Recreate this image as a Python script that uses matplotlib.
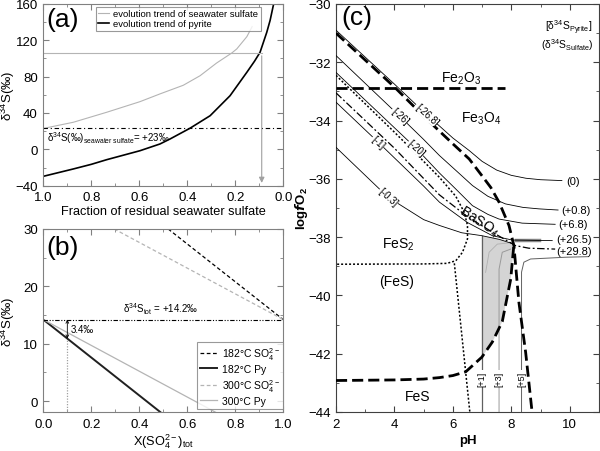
import matplotlib
matplotlib.use('Agg')
from matplotlib import pyplot as plt
from matplotlib.ticker import MultipleLocator

plt.rcParams['font.family'] = ['Liberation Sans', 'DejaVu Sans']
plt.rcParams['mathtext.fontset'] = 'custom'
plt.rcParams['mathtext.rm'] = 'Liberation Sans'
plt.rcParams['mathtext.it'] = 'Liberation Sans:italic'
plt.rcParams['mathtext.bf'] = 'Liberation Sans:bold'
plt.rcParams['font.size'] = 9.5

# ---- panel (a): Rayleigh trends
f_sulf = [1.0, 0.875, 0.736, 0.597, 0.514, 0.417, 0.347, 0.278, 0.215, 0.194, 0.152, 0.13]
d_sulf = [23, 29.8, 40.8, 52.5, 61, 70.5, 81, 95, 106, 110.5, 124, 135]
f_py = [1.0, 0.875, 0.8, 0.736, 0.597, 0.514, 0.472, 0.389, 0.305, 0.222, 0.152, 0.12, 0.097,
        0.069, 0.055, 0.042, 0.037]
d_py = [-29.7, -21.6, -16.5, -11.4, -1.5, 5.9, 11.4, 23.2, 37, 59, 84.8, 97, 106.8,
        128.8, 142, 158, 163]
sw_sulfate = 23
f_mark, d_mark = 0.09, 106

# ---- panel (b): mass balance lines
d_tot = 14.2
x_182_so4, y_182_so4 = [0.52, 1.0], [30, 14.2]
x_300_so4, y_300_so4 = [0.295, 1.0], [30, 14.2]
x_182_py, y_182_py = [0.0, 0.49], [14.2, -2]
x_300_py, y_300_py = [0.0, 0.72], [14.2, -2]
x_mark, py_mark = 0.1, 10.9

# ---- panel (c): pH - logfO2 diagram
mag_py_ph = [2.0, 4.0, 5.0, 6.0, 6.56, 7.0, 7.3, 7.58, 7.92, 8.09, 8.15, 8.26, 8.49, 8.71]
mag_py_lf = [-31.0, -32.85, -33.85, -34.8, -35.32, -35.9, -36.3, -36.8, -37.6, -38.3, -39.0, -40.24, -41.95, -44.0]
py_po_ph = [2.0, 4.0, 5.0, 5.54, 6.0, 6.44, 6.99, 7.35, 7.69, 7.98, 8.09]
py_po_lf = [-42.92, -42.9, -42.87, -42.82, -42.75, -42.62, -42.12, -41.6, -40.9, -39.44, -38.24]
hem_ph, hem_lf = [2.0, 7.8], [-32.9, -32.9]

c0_ph = [2.0, 4.0, 5.0, 6.0, 6.56, 7.0, 7.5, 8.0, 8.5, 9.0, 9.73]
c0_lf = [-30.9, -32.75, -33.7, -34.6, -35.03, -35.4, -35.7, -35.88, -35.98, -36.03, -36.06]
c08_ph = [2.0, 4.18, 5.0, 5.54, 6.2, 6.67, 7.2, 7.8, 8.4, 8.94, 9.6]
c08_lf = [-31.77, -33.85, -34.65, -35.2, -35.8, -36.23, -36.6, -36.86, -36.98, -37.03, -37.07]
c68_ph = [2.0, 4.74, 5.54, 6.1, 6.67, 7.2, 7.58, 8.37, 9.5]
c68_lf = [-32.35, -34.95, -35.8, -36.35, -36.92, -37.22, -37.38, -37.52, -37.56]
c265_ph = [2.0, 3.44, 5.0, 5.54, 6.5, 7.35, 8.03, 9.4]
c265_lf = [-33.37, -34.74, -36.25, -36.8, -37.5, -37.95, -38.1, -38.12]
c298_ph = [2.0, 4.0, 5.54, 6.5, 7.35, 8.14, 8.6, 9.5]
c298_lf = [-33.05, -34.95, -36.55, -37.3, -37.83, -38.29, -38.38, -38.41]
c03_ph = [2.0, 3.78, 5.0, 5.54, 6.3, 6.99, 7.6, 8.09]
c03_lf = [-34.92, -36.63, -37.4, -37.6, -37.85, -37.95, -38.08, -38.24]
bar_ph = [2.0, 4.0, 5.0, 5.54, 6.1, 6.39, 6.5, 6.5, 6.33, 6.1, 5.8, 5.0, 2.0]
bar_lf = [-32.45, -34.4, -35.4, -35.95, -36.6, -37.15, -37.6, -38.06, -38.52, -38.81, -38.9, -38.92, -38.93]
fes_ph, fes_lf = [6.05, 6.58], [-38.9, -44.0]
p1_ph, p1_lf = [7.0, 7.0], [-44.0, -37.95]
p3_ph = [7.58, 7.58, 7.69, 7.98]
p3_lf = [-44.0, -39.1, -38.52, -38.41]
p3b_ph = [7.12, 7.24, 7.52, 7.9]
p3b_lf = [-39.21, -38.52, -38.24, -38.2]
p5_ph = [8.35, 8.35, 8.43, 8.66, 9.85, 10.64]
p5_lf = [-44.0, -39.2, -38.86, -38.75, -38.69, -38.67]
band_ph, band_lf = [8.15, 8.94], [-38.1, -38.1]

right_labels = ['(0)', '(+0.8)', '(+6.8)', '(+26.5)', '(+29.8)']
right_ph = [9.89, 9.72, 9.59, 9.55, 9.55]
right_lf = [-36.06, -37.07, -37.56, -38.07, -38.47]
line_labels = ['[-26.8]', '[-26]', '[-20]', '[-1]', '[-0.3]']
line_ph = [5.1, 4.18, 4.74, 3.44, 3.78]
line_lf = [-33.78, -33.85, -34.95, -34.74, -36.63]
vert_labels = ['[+1]', '[+3]', '[+5]']
vert_ph = [7.0, 7.58, 8.35]

frame_a = '#808080'
frame_c = '#404040'
grey = '#b4b4b4'


def style_axis(ax, col):
    for s in ax.spines.values():
        s.set_color(col)
        s.set_linewidth(0.8)
    ax.tick_params(which='both', direction='in', top=True, right=True, color=col, pad=4)
    ax.tick_params(which='major', length=4)
    ax.tick_params(which='minor', length=2)


fig = plt.figure(figsize=(6, 4.52), dpi=100)

# (a)
ax1 = fig.add_axes([0.0722, 0.587, 0.4, 0.402])
ax1.plot(f_sulf, d_sulf, color=grey, lw=0.8, label='evolution trend of seawater sulfate')
ax1.plot(f_py, d_py, color='black', lw=1.2, label='evolution trend of pyrite')
ax1.axhline(sw_sulfate, color='black', lw=0.8, ls=(0, (4, 2.5, 1, 2.5)))
ax1.plot([1.0, f_mark], [d_mark, d_mark], color=grey, lw=0.8)
ax1.annotate('', xy=(f_mark, -40), xytext=(f_mark, d_mark),
             arrowprops=dict(arrowstyle='-|>', color='#a0a0a0', lw=0.8, mutation_scale=8))
ax1.text(0.985, 13.6, r'δ$^{34}$S(‰)$_{\mathrm{seawater\ sulfate}}$= +23‰', fontsize=7, va='center')
ax1.set_xlim(1.0, 0.0)
ax1.set_ylim(-40, 160)
ax1.xaxis.set_major_locator(MultipleLocator(0.2))
ax1.xaxis.set_minor_locator(MultipleLocator(0.1))
ax1.yaxis.set_major_locator(MultipleLocator(40))
ax1.yaxis.set_minor_locator(MultipleLocator(20))
ax1.set_xlabel('Fraction of residual seawater sulfate', fontsize=9.2, labelpad=1)
ax1.set_ylabel(r'δ$^{34}$S(‰)', fontsize=9.5)
ax1.yaxis.set_label_coords(-0.108, 0.5)
style_axis(ax1, frame_a)
leg = ax1.legend(loc='upper right', bbox_to_anchor=(0.905, 0.985), fontsize=6.8,
                 frameon=True, fancybox=False, edgecolor=frame_a, handlelength=1.2,
                 borderpad=0.25, labelspacing=0.15, handletextpad=0.4, borderaxespad=0)
leg.get_frame().set_linewidth(0.8)
ax1.text(0.012, 0.92, '(a)', transform=ax1.transAxes, fontsize=19, va='center')

# (b)
ax2 = fig.add_axes([0.0722, 0.0863, 0.4, 0.405])
ax2.plot(x_182_so4, y_182_so4, color='black', lw=0.9, ls=(0, (3, 2)), label=r'182°C SO$_4^{2-}$')
ax2.plot(x_182_py, y_182_py, color='#202020', lw=1.4, label='182°C Py')
ax2.plot(x_300_so4, y_300_so4, color=grey, lw=0.9, ls=(0, (3, 2)), label=r'300°C SO$_4^{2-}$')
ax2.plot(x_300_py, y_300_py, color=grey, lw=0.9, label='300°C Py')
ax2.axhline(d_tot, color='black', lw=0.8, ls=(0, (4, 1.5, 1, 1.5, 1, 1.5)))
ax2.plot([x_mark, x_mark], [-2, py_mark], color='#a0a0a0', lw=0.9, ls=(0, (1, 1.2)))
ax2.annotate('', xy=(x_mark, py_mark), xytext=(x_mark, d_tot),
             arrowprops=dict(arrowstyle='<->', color='black', lw=0.6, mutation_scale=5,
                             shrinkA=0, shrinkB=0))
ax2.text(0.112, 12.5, '3.4‰', fontsize=7, va='center')
ax2.text(0.49, 16.1, r'δ$^{34}$S$_{\mathrm{tot}}$ = +14.2‰', fontsize=7, ha='center', va='center')
ax2.set_xlim(0, 1.0)
ax2.set_ylim(-1.9, 30)
ax2.xaxis.set_major_locator(MultipleLocator(0.2))
ax2.xaxis.set_minor_locator(MultipleLocator(0.1))
ax2.yaxis.set_major_locator(MultipleLocator(10))
ax2.yaxis.set_minor_locator(MultipleLocator(5))
ax2.set_xlabel(r'X(SO$_4^{2-}$)$_{\mathrm{tot}}$', fontsize=9.2, labelpad=1)
ax2.set_ylabel(r'δ$^{34}$S(‰)', fontsize=9.5)
ax2.yaxis.set_label_coords(-0.108, 0.5)
style_axis(ax2, frame_a)
leg2 = ax2.legend(loc='lower right', bbox_to_anchor=(1.0, 0.015), fontsize=7.5,
                  frameon=True, fancybox=False, edgecolor=frame_a, handlelength=1.6,
                  borderpad=0.3, labelspacing=0.25, handletextpad=0.5, borderaxespad=0)
leg2.get_frame().set_linewidth(0.8)
ax2.text(0.012, 0.9, '(b)', transform=ax2.transAxes, fontsize=19, va='center')

# (c)
ax3 = fig.add_axes([0.56, 0.0863, 0.4383, 0.9027])
top_ph = [p for p in c03_ph if p >= 6.99]
top_lf = [l for p, l in zip(c03_ph, c03_lf) if p >= 6.99]
bot_ph = [p for p in py_po_ph if p >= 6.99]
bot_lf = [l for p, l in zip(py_po_ph, py_po_lf) if p >= 6.99]
ax3.fill(top_ph + bot_ph[::-1], top_lf + bot_lf[::-1], color='#d4d4d4', lw=0, zorder=1)

thin = dict(color='black', lw=0.6, zorder=3)
ax3.plot(c0_ph, c0_lf, **thin)
ax3.plot(c08_ph, c08_lf, **thin)
ax3.plot(c68_ph, c68_lf, **thin)
ax3.plot(c265_ph, c265_lf, **thin)
ax3.plot(c03_ph, c03_lf, **thin)
ax3.plot(c298_ph, c298_lf, color='black', lw=0.9, ls=(0, (6, 2, 1.5, 2)), zorder=3)
ax3.plot(band_ph, band_lf, color='#8a8a8a', lw=2.5, zorder=2)
ax3.plot(bar_ph, bar_lf, color='black', lw=1.1, ls=(0, (1.3, 1.3)), zorder=3)
ax3.plot(fes_ph, fes_lf, color='black', lw=1.1, ls=(0, (1.3, 1.3)), zorder=3)
ax3.plot(p1_ph, p1_lf, color='#606060', lw=0.9, zorder=2)
ax3.plot(p3_ph, p3_lf, color='#9a9a9a', lw=0.7, zorder=2)
ax3.plot(p3b_ph, p3b_lf, color='#b0b0b0', lw=0.6, zorder=2)
ax3.plot(p5_ph, p5_lf, color='#606060', lw=0.7, zorder=2)
ax3.plot(mag_py_ph, mag_py_lf, color='black', lw=2.0, ls=(0, (4, 1.8)), zorder=4)
ax3.plot(py_po_ph, py_po_lf, color='black', lw=2.0, ls=(0, (4, 1.8)), zorder=4)
ax3.plot(hem_ph, hem_lf, color='black', lw=2.0, ls=(0, (4, 1.8)), zorder=4)

for lab, x, y in zip(right_labels, right_ph, right_lf):
    ax3.text(x, y, lab, fontsize=8, va='center', ha='left')
for lab, x, y in zip(line_labels, line_ph, line_lf):
    ax3.text(x, y, lab, fontsize=7, va='center', ha='center', rotation=-42, zorder=5,
             bbox=dict(facecolor='white', edgecolor='none', pad=0.3))
for lab, x in zip(vert_labels, vert_ph):
    ax3.text(x, -42.85, lab, fontsize=6.5, va='center', ha='center', rotation=90, zorder=5,
             bbox=dict(facecolor='white', edgecolor='none', pad=0.3))

ax3.text(6.27, -32.52, r'Fe$_2$O$_3$', fontsize=10, ha='center', va='center')
ax3.text(6.96, -33.9, r'Fe$_3$O$_4$', fontsize=10, ha='center', va='center')
ax3.text(4.12, -38.24, r'FeS$_2$', fontsize=10, ha='center', va='center')
ax3.text(4.06, -39.5, '(FeS)', fontsize=10, ha='center', va='center')
ax3.text(4.8, -43.44, 'FeS', fontsize=10, ha='center', va='center')
ax3.text(6.9, -37.44, r'BaSO$_4$', fontsize=10, ha='center', va='center', rotation=-33, zorder=5)
ax3.text(9.95, -30.8, r'[δ$^{34}$S$_{\mathrm{Pyrite}}$]', fontsize=7.5, ha='center', va='center')
ax3.text(9.9, -31.37, r'(δ$^{34}$S$_{\mathrm{Sulfate}}$)', fontsize=7.5, ha='center', va='center')
ax3.text(0.02, 0.967, '(c)', transform=ax3.transAxes, fontsize=19, va='center')

ax3.set_xlim(2, 11)
ax3.set_ylim(-44, -30)
ax3.xaxis.set_major_locator(MultipleLocator(2))
ax3.xaxis.set_minor_locator(MultipleLocator(1))
ax3.yaxis.set_major_locator(MultipleLocator(2))
ax3.yaxis.set_minor_locator(MultipleLocator(1))
ax3.set_xlabel('pH', fontsize=9.5, fontweight='bold', labelpad=3)
ax3.set_ylabel(r'$\mathbf{log}\mathbfit{f}\mathbf{O_2}$', fontsize=9.5)
ax3.yaxis.set_label_coords(-0.1, 0.5)
style_axis(ax3, frame_c)

fig.savefig('out.png', dpi=100)
